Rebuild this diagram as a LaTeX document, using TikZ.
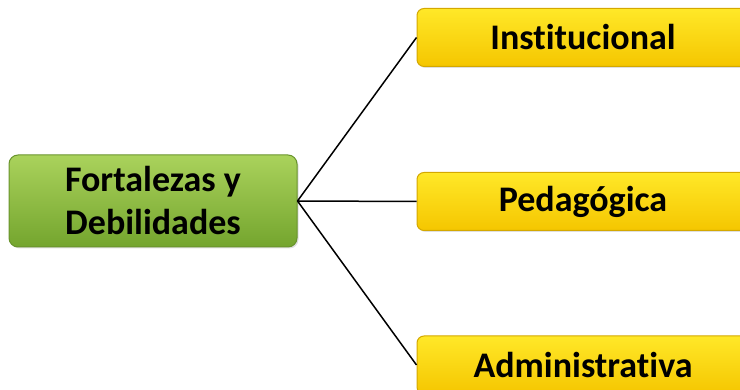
\documentclass[tikz,border=0pt]{standalone}
\usepackage{fontspec}
\setmainfont[Ligatures=NoCommon]{Carlito}
\usepackage{tikz}
\usetikzlibrary{shadows}
\definecolor{greentop}{RGB}{170,210,92}
\definecolor{greenbot}{RGB}{116,165,46}
\definecolor{greenline}{RGB}{105,148,45}
\definecolor{yellowtop}{RGB}{255,232,40}
\definecolor{yellowbot}{RGB}{245,198,0}
\definecolor{yellowline}{RGB}{212,168,0}

\begin{document}
\begin{tikzpicture}[x=1pt,y=1pt,
  topic/.style={draw=greenline,line width=1pt,rounded corners=9pt,
    top color=greentop,bottom color=greenbot,
    drop shadow={opacity=0.25,shadow xshift=1.5pt,shadow yshift=-1.5pt},
    minimum width=288pt,minimum height=92pt,inner sep=0pt,align=center,
    font=\fontsize{36}{43}\selectfont\bfseries},
  branch/.style={draw=yellowline,line width=1pt,rounded corners=7pt,
    top color=yellowtop,bottom color=yellowbot,
    drop shadow={opacity=0.25,shadow xshift=1.5pt,shadow yshift=-1.5pt},
    minimum width=332pt,minimum height=58pt,inner sep=0pt,
    font=\fontsize{36}{43}\selectfont\bfseries},
  link/.style={line width=1.5pt}]
\useasboundingbox (0,0) rectangle (740,390);
\clip (0,0) rectangle (740,390);
\node[topic] (fd) at (153,189) {Fortalezas y\\Debilidades};
\node[branch] (inst) at (583,352.5) {Institucional};
\node[branch] (peda) at (583,188.5) {Pedagógica};
\node[branch] (admin) at (583,25) {Administrativa};
\draw[link] (fd.east) -- (inst.west);
\draw[link] (fd.east) -- (peda.west);
\draw[link] (fd.east) -- (admin.west);
\end{tikzpicture}
\end{document}
